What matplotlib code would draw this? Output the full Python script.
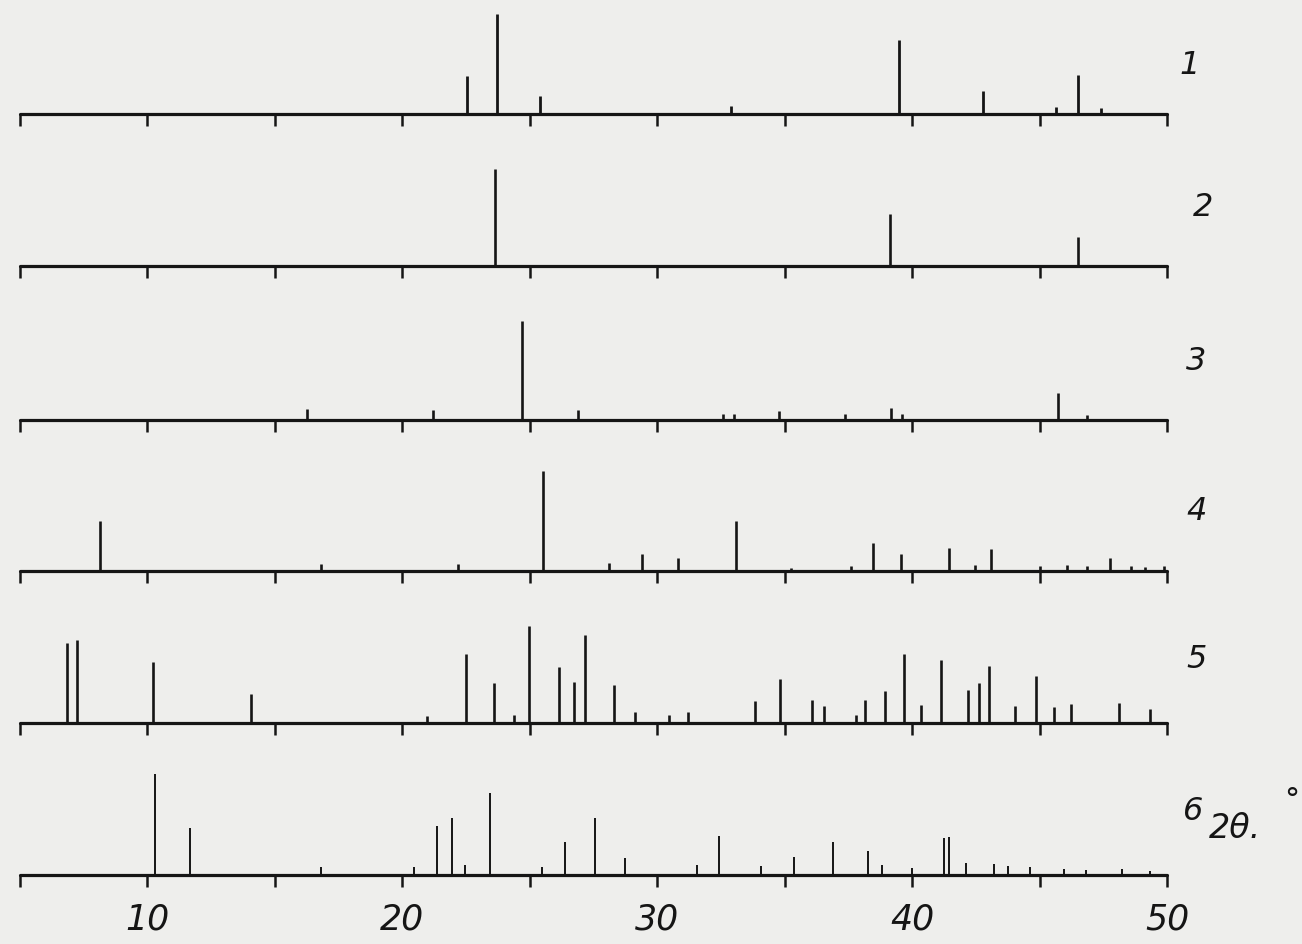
import matplotlib
matplotlib.use("Agg")
import matplotlib.pyplot as plt

# ---- data: peak positions (2θ, degrees) and relative intensities ----
pos1 = [22.55, 23.73, 25.4, 32.9, 39.5, 42.8, 45.65, 46.5, 47.4]
int1 = [38, 100, 18, 8, 74, 23, 7, 39, 6]

pos2 = [23.65, 39.15, 46.5]
int2 = [97, 52, 29]

pos3 = [16.25, 21.2, 24.7, 26.9, 32.6, 33.0, 34.77, 37.36, 39.19, 39.62, 45.74, 46.85]
int3 = [11, 10, 99, 10, 6, 6, 9, 6, 12, 6, 27, 5]

pos4 = [8.15, 16.8, 22.2, 25.5, 28.1, 29.4, 30.8, 33.1, 35.25, 37.6, 38.45, 39.55,
        41.45, 42.45, 43.1, 45.0, 46.07, 46.87, 47.77, 48.57, 49.13, 49.88]
int4 = [50, 7, 7, 100, 8, 17, 13, 50, 3, 5, 28, 17, 23, 6, 22, 5, 6, 5, 13, 5, 4, 5]

pos5 = [6.85, 7.25, 10.2, 14.05, 20.95, 22.5, 23.6, 24.4, 24.98, 26.15, 26.72, 27.15,
        28.3, 29.12, 30.48, 31.2, 33.82, 34.8, 36.08, 36.56, 37.79, 38.16, 38.93, 39.67,
        40.33, 41.13, 42.2, 42.62, 43.02, 44.03, 44.85, 45.55, 46.22, 48.1, 49.35]
int5 = [80, 83, 61, 29, 7, 69, 40, 8, 97, 56, 41, 88, 38, 11, 8, 11, 22, 44, 23, 17,
        8, 23, 32, 69, 18, 63, 33, 40, 57, 17, 47, 16, 19, 20, 14]

pos6 = [10.3, 11.65, 16.8, 20.45, 21.37, 21.93, 22.46, 23.42, 25.46, 26.39, 27.57, 28.75,
        31.57, 32.43, 34.09, 35.38, 36.88, 38.28, 38.8, 40.0, 41.26, 41.44, 42.13, 43.2,
        43.77, 44.64, 45.97, 46.82, 48.23, 49.32]
int6 = [101, 47, 8, 8, 49, 57, 10, 82, 8, 33, 57, 17, 10, 39, 9, 18, 33, 24, 10, 7,
        37, 38, 12, 11, 9, 8, 6, 5, 6, 4]

labels = ["1", "2", "3", "4", "5", "6"]
x_ticks = [5, 10, 15, 20, 25, 30, 35, 40, 45, 50]
x_ticklabels = ["10", "20", "30", "40", "50"]
x_ticklabel_pos = [10, 20, 30, 40, 50]

patterns = [(pos1, int1), (pos2, int2), (pos3, int3), (pos4, int4), (pos5, int5), (pos6, int6)]

# ---- layout ----
W, H = 1302, 944
fig = plt.figure(figsize=(W / 100, H / 100), dpi=100)
bg = "#eeeeec"
fig.patch.set_facecolor(bg)
ax = fig.add_axes([0, 0, 1, 1])
ax.set_facecolor(bg)
pxu = (1167 - 20) / 45.0
ax.set_xlim(5 - 20 / pxu, 50 + (W - 1167) / pxu)
ax.set_ylim(H, 0)
ax.axis("off")

ink = "#151515"
baselines = [114, 266, 420, 571, 723, 875]
label_xy = [(1190, 65), (1203, 208), (1196, 362), (1197, 512), (1197, 660), (1193, 812)]
tick_len = 12
lw_peak = [2.0, 1.9, 1.9, 1.9, 1.9, 1.4]

font = ["DejaVu Sans"]

for i, ((p, h), base) in enumerate(zip(patterns, baselines)):
    ax.hlines(base, 5, 50, color=ink, lw=2.3, capstyle="round")
    ax.vlines(x_ticks, base, base + tick_len, color=ink, lw=1.8)
    ax.vlines(p, base, [base - v for v in h], color=ink, lw=lw_peak[i])
    lx, ly = label_xy[i]
    ax.text(5 + (lx - 20) / pxu, ly, labels[i], fontsize=23, style="italic",
            color=ink, ha="center", va="center", family=font)

for v, t in zip(x_ticklabel_pos, x_ticklabels):
    ax.text(v, 920, t, fontsize=25, style="italic", color=ink,
            ha="center", va="center", family=font)

ax.text(5 + (1235 - 20) / pxu, 828, "2θ.", fontsize=24, style="italic", color=ink,
        ha="center", va="center", family=font)
ax.text(5 + (1292 - 20) / pxu, 800, "°", fontsize=22, color=ink,
        ha="center", va="center", family=font)

fig.savefig("out.png", dpi=100, facecolor=bg)
